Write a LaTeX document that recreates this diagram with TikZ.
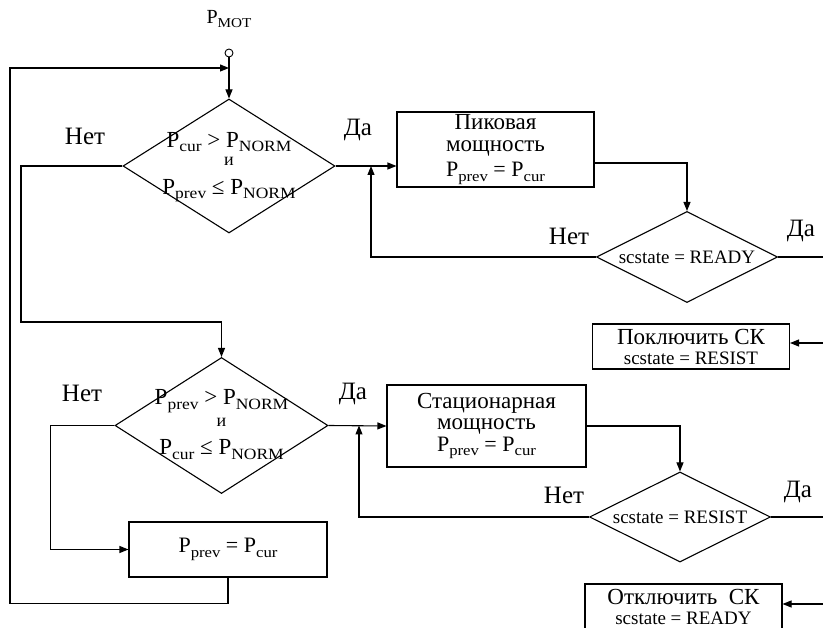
\documentclass[tikz,border=0pt]{standalone}
\usepackage{fontspec}
\setmainfont{Liberation Serif}
\usetikzlibrary{shapes.geometric,arrows.meta,positioning}

\newcommand{\Pn}[1]{P\raisebox{-0.2em}{\scalebox{0.76}[0.68]{#1}}}

\tikzset{
  decision/.style={diamond, draw, inner sep=0pt},
  block/.style={rectangle, draw, inner sep=0pt, align=center},
  arr/.style={-{Triangle[length=9pt,width=7pt]}},
  answer/.style={font=\fontsize{25}{27}\selectfont},
  cond/.style={align=center, font=\fontsize{23}{25}\selectfont},
  small/.style={font=\fontsize{19}{21}\selectfont},
}

\begin{document}
\begin{tikzpicture}[x=1pt, y=-1pt, line width=1.1pt]
\useasboundingbox (0,0) rectangle (823,628);
\clip (0,0) rectangle (823,628);

% input
\node[font=\fontsize{20}{22}\selectfont] (plab) at (229,19) {\Pn{MOT}};
\node[circle, draw, minimum size=8pt, inner sep=0pt, line width=0.9pt] (src) at (229,53) {};
\coordinate (top) at (229,68);

% upper branch
\node[decision, minimum width=212pt, minimum height=134pt,
  label={[cond, yshift=-1pt]center:{\Pn{cur} > \Pn{NORM}\\[-7pt]{\fontsize{18}{18}\selectfont и}\\[4pt]\Pn{prev} ≤ \Pn{NORM}}}] (d1) at (229,166) {};
\node[block, minimum width=197pt, minimum height=75pt, font=\fontsize{23}{21}\selectfont] (pk) at (495.5,149.5)
  {Пиковая\\[1pt]мощность\\[4pt]{\fontsize{22}{22}\selectfont\Pn{prev} = \Pn{cur}}};
\node[decision, minimum width=181pt, minimum height=91pt,
  label={[small]center:{scstate = READY}}] (d3) at (687,257) {};
\node[block, minimum width=197pt, minimum height=45pt, font=\fontsize{23}{20}\selectfont] (on) at (691,346.5)
  {Поключить СК\\{\fontsize{19}{20}\selectfont scstate = RESIST}};
\coordinate (j1) at (371,166);
\coordinate (e3) at (823,257);
\coordinate (eon) at (823,343);

% lower branch
\node[decision, minimum width=213pt, minimum height=136pt,
  label={[cond, yshift=1pt]center:{\Pn{prev} > \Pn{NORM}\\[-3pt]{\fontsize{18}{18}\selectfont и}\\[3pt]\Pn{cur} ≤ \Pn{NORM}}}] (d2) at (221.5,425.5) {};
\node[block, minimum width=199pt, minimum height=82pt, font=\fontsize{23}{20}\selectfont] (st) at (486.5,426)
  {Стационарная\\[1pt]мощность\\[2pt]{\fontsize{22}{22}\selectfont\Pn{prev} = \Pn{cur}}};
\node[decision, minimum width=181pt, minimum height=90pt,
  label={[small]center:{scstate = RESIST}}] (d4) at (680,517) {};
\node[block, minimum width=197pt, minimum height=45pt, font=\fontsize{23}{20}\selectfont] (off) at (683.5,606.5)
  {Отключить~~СК\\{\fontsize{19}{20}\selectfont scstate = READY}};
\node[block, minimum width=198pt, minimum height=55pt, font=\fontsize{22}{24}\selectfont] (eq) at (228,549.5)
  {\Pn{prev} = \Pn{cur}};
\coordinate (j2) at (359,425.5);
\coordinate (e4) at (823,517);
\coordinate (eoff) at (823,604);

% answers
\node[answer] (no1) at (85,136) {Нет};
\node[answer] (yes1) at (358,130) {Да};
\node[answer] (no3) at (569,236) {Нет};
\node[answer] (yes3) at (801,231) {Да};
\node[answer] (no2) at (82,393) {Нет};
\node[answer] (yes2) at (353,394) {Да};
\node[answer] (no4) at (564,495) {Нет};
\node[answer] (yes4) at (798,492) {Да};

% connectors
\draw[arr] (src) -- (d1.north);
\draw[arr] (d1.west) -| (21,322) -| (d2.north);
\draw[arr] (d1.east) -- (pk.west |- d1.east);
\draw[arr] ([yshift=-13.5pt]pk.east) -| (d3.north);
\draw[arr] (d3.west) -| (j1);
\draw (d3.east) -- (e3);
\draw[arr] (eon) -- (on.east |- eon);
\draw[arr] (d2.east) -- (st.west);
\draw[arr] (st.east) -| (d4.north);
\draw[arr] (d4.west) -| (j2);
\draw (d4.east) -- (e4);
\draw[arr] (eoff) -- (off.east |- eoff);
\draw[arr] (d2.west) -- ++(-64,0) |- (eq.west);
\draw[arr] (eq.south) -- ++(0,26) -| (10,68) -- (top);
\end{tikzpicture}
\end{document}
